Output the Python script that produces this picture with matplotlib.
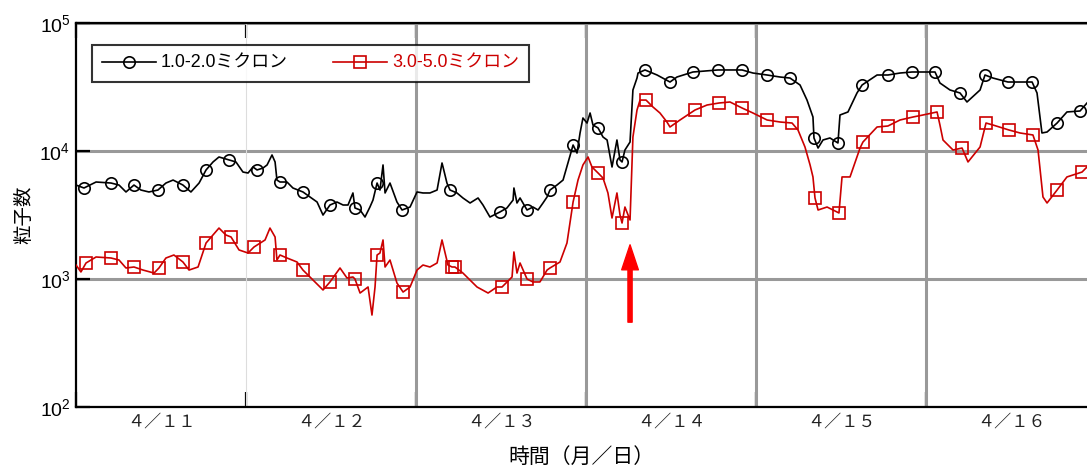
import numpy as np
import matplotlib
matplotlib.use("Agg")
import matplotlib.pyplot as plt
from matplotlib.ticker import FixedLocator, NullLocator, NullFormatter

plt.rcParams['font.family'] = ['Liberation Sans', 'Noto Sans CJK JP', 'DejaVu Sans']
plt.rcParams['mathtext.fontset'] = 'custom'
plt.rcParams['mathtext.rm'] = 'Liberation Sans'
plt.rcParams['mathtext.it'] = 'Liberation Sans:italic'

# elapsed time in days from 4/11 00:00
small_days = [
    0.000, 0.047, 0.118, 0.206, 0.253, 0.294, 0.341, 0.382, 0.429, 0.482,
    0.529, 0.571, 0.629, 0.676, 0.724, 0.765, 0.806, 0.841, 0.900, 0.941,
    0.982, 1.012, 1.041, 1.065, 1.100, 1.124, 1.153, 1.171, 1.182, 1.200,
    1.241, 1.276, 1.335, 1.376, 1.418, 1.453, 1.494, 1.535, 1.571, 1.600,
    1.629, 1.641, 1.671, 1.700, 1.729, 1.747, 1.771, 1.788, 1.806, 1.818,
    1.847, 1.888, 1.918, 1.965, 2.006, 2.041, 2.082, 2.124, 2.153, 2.159,
    2.182, 2.200, 2.241, 2.276, 2.318, 2.365, 2.394, 2.435, 2.494, 2.535,
    2.571, 2.576, 2.594, 2.612, 2.653, 2.688, 2.718, 2.747, 2.771, 2.788,
    2.829, 2.865, 2.894, 2.924, 2.947, 2.965, 2.982, 3.006, 3.024, 3.041,
    3.071, 3.100, 3.124, 3.153, 3.182, 3.200, 3.212, 3.229, 3.259, 3.276,
    3.300, 3.306, 3.347, 3.418, 3.494, 3.535, 3.629, 3.776, 3.918, 3.982,
    4.065, 4.141, 4.200, 4.259, 4.300, 4.335, 4.341, 4.365, 4.394, 4.435,
    4.482, 4.494, 4.541, 4.594, 4.624, 4.712, 4.776, 4.847, 4.918, 5.053,
    5.082, 5.141, 5.200, 5.241, 5.318, 5.347, 5.394, 5.482, 5.553, 5.624,
    5.653, 5.682, 5.712, 5.771, 5.829, 5.906, 5.947,
]
# particle counts, 1.0-2.0 micron
small_counts = [
    5420, 5140, 5725, 5620, 5420, 4785, 5420, 4955, 4785, 4955,
    5620, 5930, 5420, 4785, 5620, 7110, 8210, 8980, 8510, 8210,
    6850, 6730, 7500, 7110, 7360, 7780, 9310, 8210, 5930, 5725,
    5725, 5140, 4785, 4375, 3995, 3160, 3785, 3995, 3785, 3785,
    4700, 3590, 3460, 3050, 3650, 4140, 5620, 4955, 7780, 4700,
    5620, 3995, 3460, 3650, 4785, 4700, 4700, 4955, 8060, 7500,
    5620, 4955, 4700, 4295, 3925, 4295, 3785, 3050, 3340, 3590,
    4140, 5140, 3925, 4295, 3460, 3650, 3460, 3925, 4375, 4955,
    5420, 5930, 8060, 11140, 9640, 13830, 18110, 16540, 19810, 15960,
    15130, 12860, 12190, 7500, 12190, 8510, 8210, 10180, 11750, 29970,
    37150, 40660, 42960, 39240, 34590, 37850, 41420, 42960, 42960, 40660,
    39240, 37850, 37150, 32780, 25000, 18440, 12640, 10550, 12190, 12640,
    11550, 19110, 20180, 28400, 32780, 39240, 39240, 40660, 41420, 41420,
    33980, 29970, 28400, 24150, 29970, 39240, 37150, 34590, 34590, 34590,
    28400, 13830, 14070, 16540, 20180, 20540, 23710,
]
small_marks = [1, 3, 6, 9, 12, 15, 18, 23, 29, 32, 36, 41, 46, 52, 61, 68, 74,
               79, 83, 90, 96, 102, 104, 106, 107, 108, 110, 112, 116, 120,
               124, 126, 128, 129, 132, 135, 137, 139, 143, 145]

large_days = [
    0.000, 0.029, 0.059, 0.118, 0.206, 0.253, 0.294, 0.341, 0.394, 0.459,
    0.488, 0.529, 0.576, 0.629, 0.665, 0.718, 0.765, 0.841, 0.882, 0.912,
    0.959, 1.012, 1.047, 1.112, 1.141, 1.171, 1.182, 1.200, 1.241, 1.300,
    1.335, 1.394, 1.453, 1.494, 1.553, 1.594, 1.629, 1.641, 1.671, 1.718,
    1.741, 1.759, 1.771, 1.788, 1.806, 1.818, 1.847, 1.888, 1.924, 1.965,
    2.006, 2.041, 2.082, 2.124, 2.153, 2.171, 2.188, 2.212, 2.229, 2.276,
    2.359, 2.424, 2.476, 2.506, 2.565, 2.576, 2.594, 2.612, 2.653, 2.688,
    2.729, 2.771, 2.788, 2.847, 2.888, 2.924, 2.953, 2.982, 3.012, 3.035,
    3.071, 3.100, 3.129, 3.153, 3.182, 3.200, 3.212, 3.229, 3.259, 3.276,
    3.300, 3.318, 3.353, 3.394, 3.435, 3.476, 3.494, 3.553, 3.641, 3.712,
    3.782, 3.847, 3.918, 3.982, 4.065, 4.141, 4.212, 4.247, 4.288, 4.318,
    4.335, 4.347, 4.365, 4.418, 4.453, 4.488, 4.506, 4.553, 4.612, 4.629,
    4.712, 4.776, 4.847, 4.924, 4.982, 5.065, 5.082, 5.100, 5.159, 5.212,
    5.247, 5.318, 5.353, 5.394, 5.488, 5.553, 5.629, 5.659, 5.688, 5.712,
    5.771, 5.829, 5.918, 5.947,
]
# particle counts, 3.0-5.0 micron
large_counts = [
    1286, 1135, 1334, 1486, 1459, 1407, 1219, 1241, 1175, 1113,
    1219, 1459, 1540, 1358, 1175, 1241, 1911, 2500, 2206, 2129,
    1686, 1596, 1778, 2018, 2500, 2129, 1407, 1540, 1459, 1358,
    1175, 982, 821, 948, 1219, 1018, 1037, 1000, 777, 866,
    523, 866, 1540, 1596, 2018, 1241, 1407, 930, 791, 866,
    1175, 1286, 1241, 1334, 2018, 1596, 1286, 1241, 1241, 1113,
    866, 777, 866, 866, 1037, 1626, 1113, 1334, 1000, 948,
    948, 1175, 1219, 1358, 1911, 3995, 5930, 7780, 8980, 7500,
    6730, 6150, 4700, 2997, 4700, 3160, 2738, 3650, 2890, 12860,
    20900, 25000, 25000, 22060, 19810, 16850, 15400, 17470, 20900, 22870,
    23710, 24150, 21670, 19810, 17470, 16850, 16540, 14590, 10750, 7780,
    6270, 4295, 3460, 3650, 3460, 3280, 6270, 6270, 10550, 11750,
    15400, 15680, 17470, 18440, 19110, 20180, 15960, 12190, 10180, 10550,
    8210, 10750, 16540, 15960, 14590, 13830, 13340, 10180, 4375, 3925,
    4955, 6270, 6850, 7500,
]
large_marks = [2, 4, 7, 10, 13, 16, 19, 22, 27, 30, 33, 37, 42, 48, 57, 58, 63,
               68, 72, 75, 80, 86, 92, 96, 98, 100, 102, 104, 106, 111, 115,
               119, 121, 123, 125, 129, 132, 134, 136, 140, 142]

day_labels = ['４／１１', '４／１２', '４／１３', '４／１４', '４／１５', '４／１６']
series_labels = ['1.0-2.0ミクロン', '3.0-5.0ミクロン']

black = '#000000'
red = '#CC0000'
grid_grey = '#999999'
cjk = ['Noto Sans CJK JP', 'DejaVu Sans']

fig = plt.figure(figsize=(10.87, 4.68), dpi=100)
ax = fig.add_axes([76 / 1087, 61 / 468, 1011 / 1087, 384 / 468])

# day boundaries
n_days = len(day_labels)
for d in range(2, n_days):
    ax.axvline(d, color=grid_grey, lw=2.2, zorder=1)
ax.axvline(1, color='#dddddd', lw=0.8, zorder=1)
ax.grid(True, axis='y', which='major', color=grid_grey, lw=2.2, zorder=1)
ax.set_axisbelow(True)

ax.plot(small_days, small_counts, color=black, lw=1.2, marker='o', ms=8.2,
        mfc='none', mec=black, mew=1.2, markevery=small_marks,
        label=series_labels[0], zorder=3)
ax.plot(large_days, large_counts, color=red, lw=1.2, marker='s', ms=8.2,
        mfc='none', mec=red, mew=1.2, markevery=large_marks,
        label=series_labels[1], zorder=3)

ax.set_yscale('log')
ax.set_ylim(1e2, 1e5)
ax.set_xlim(0, 5.947)
ax.yaxis.set_minor_locator(NullLocator())
ax.yaxis.set_minor_formatter(NullFormatter())

ax.xaxis.set_major_locator(FixedLocator(range(n_days)))
ax.xaxis.set_major_formatter(NullFormatter())
ax.xaxis.set_minor_locator(FixedLocator([d + 0.5 for d in range(n_days)]))
ax.set_xticklabels(day_labels, minor=True, fontsize=12.3, family=cjk)

ax.tick_params(axis='x', which='major', direction='in', length=11, width=1.6,
               top=True, bottom=True)
ax.tick_params(axis='x', which='minor', length=0, pad=4, colors='#222222')
ax.tick_params(axis='y', which='major', direction='in', length=10, width=1.6,
               left=True, right=False, labelsize=14, pad=4)

for side in ('left', 'bottom', 'top'):
    ax.spines[side].set_linewidth(1.6)
ax.spines['right'].set_visible(False)

ax.set_xlabel('時間（月／日）', fontsize=15, labelpad=11, family=cjk)
ax.set_ylabel('粒子数', fontsize=14, labelpad=4, family=cjk)

leg = ax.legend(loc='upper left', bbox_to_anchor=(16 / 1011, 1 - 22 / 384),
                borderaxespad=0, ncol=2, frameon=True, fancybox=False,
                edgecolor=black, handlelength=3.0, handletextpad=0.3,
                columnspacing=2.5, borderpad=0.55,
                prop={'family': ['Liberation Sans', 'Noto Sans CJK JP'], 'size': 12.9})
leg.get_frame().set_linewidth(1.5)
leg.get_texts()[1].set_color(red)

# marks the moment of the sudden rise on 4/14
ax.annotate('', xy=(3.259, 1850), xytext=(3.259, 460),
            arrowprops=dict(arrowstyle='simple,head_length=0.9,head_width=0.6,tail_width=0.15',
                            color='#FF0000', mutation_scale=20, shrinkA=0, shrinkB=0),
            zorder=4)

fig.savefig('out.png', dpi=100)
